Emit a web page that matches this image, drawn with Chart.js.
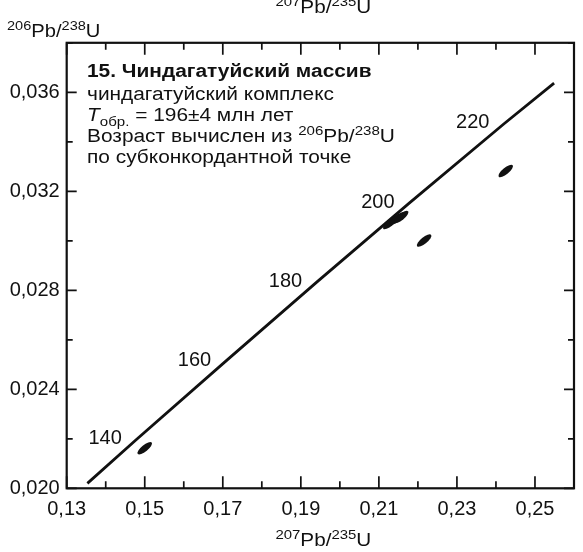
<!DOCTYPE html>
<html>
<head>
<meta charset="utf-8">
<script src="https://cdn.jsdelivr.net/npm/chart.js@4/dist/chart.umd.min.js"></script>
<style>
  html, body { margin: 0; padding: 0; background: #fff; }
  #wrap { width: 583px; height: 552px; }
</style>
</head>
<body>
<div id="wrap"><canvas id="chart" width="583" height="552"></canvas></div>
<script>
// concordia line (age in Ma, 207Pb/235U, 206Pb/238U)
const concordiaAge = [129, 140, 160, 180, 200, 220, 230.5];
const concordiaX = [0.1353, 0.1478, 0.1707, 0.1940, 0.2177, 0.2420, 0.2549];
const concordiaY = [0.02020, 0.02196, 0.02513, 0.02832, 0.03151, 0.03472, 0.03637];
const ageLabels = [140, 160, 180, 200, 220];

// analysed spots (error ellipses)
const spotX = [0.1500, 0.2129, 0.2147, 0.2157, 0.2216, 0.2425];
const spotY = [0.02162, 0.03072, 0.03090, 0.03096, 0.03001, 0.03282];

const xTickLabels = ['0,13', '0,15', '0,17', '0,19', '0,21', '0,23', '0,25'];
const yTickLabels = ['0,020', '0,024', '0,028', '0,032', '0,036'];

const FONT = '"Liberation Sans", Arial, Helvetica, sans-serif';
const INK = '#111';

function runsWidth(ctx, runs) {
  let w = 0;
  runs.forEach(r => { ctx.font = r.font; w += ctx.measureText(r.t).width; });
  return w;
}

function drawRuns(ctx, x, y, runs, sx) {
  ctx.save();
  ctx.translate(x, y);
  ctx.scale(sx, 1);
  ctx.textAlign = 'left';
  ctx.textBaseline = 'alphabetic';
  let cx = 0;
  runs.forEach(r => {
    ctx.font = r.font;
    ctx.fillText(r.t, cx, r.dy || 0);
    cx += ctx.measureText(r.t).width;
  });
  ctx.restore();
}

const big = '18px ' + FONT;
const sup = '13px ' + FONT;
const ratioRuns = (a, b, c, d) => [
  {t: a, font: sup, dy: -7}, {t: 'Pb/', font: big},
  {t: c, font: sup, dy: -7}, {t: d, font: big}
];

const decor = {
  id: 'decor',
  beforeDatasetsDraw(chart) {
    const {ctx, chartArea: a, scales: {x, y}} = chart;
    ctx.save();
    ctx.strokeStyle = INK;
    // frame
    ctx.lineWidth = 2.2;
    ctx.strokeRect(a.left, a.top, a.right - a.left, a.bottom - a.top);
    // inward ticks
    ctx.lineWidth = 1.7;
    ctx.beginPath();
    x.ticks.forEach(t => {
      const px = x.getPixelForValue(t.value);
      const len = t.label ? 12 : 7;
      ctx.moveTo(px, a.bottom); ctx.lineTo(px, a.bottom - len);
      ctx.moveTo(px, a.top); ctx.lineTo(px, a.top + len);
    });
    y.ticks.forEach(t => {
      const py = y.getPixelForValue(t.value);
      const len = t.label ? 10 : 6;
      ctx.moveTo(a.left, py); ctx.lineTo(a.left + len, py);
      ctx.moveTo(a.right, py); ctx.lineTo(a.right - len, py);
    });
    ctx.stroke();
    ctx.restore();
  },
  afterDatasetsDraw(chart) {
    const {ctx, chartArea: a, scales: {x, y}} = chart;
    ctx.save();
    ctx.fillStyle = INK;
    // error ellipses
    spotX.forEach((v, i) => {
      ctx.beginPath();
      ctx.ellipse(x.getPixelForValue(v), y.getPixelForValue(spotY[i]), 9, 3.2, -0.68, 0, Math.PI * 2);
      ctx.fill();
    });
    // age labels on concordia
    ctx.font = '20px ' + FONT;
    ctx.textAlign = 'center';
    ctx.textBaseline = 'middle';
    ageLabels.forEach(age => {
      const i = concordiaAge.indexOf(age);
      ctx.fillText(String(age), x.getPixelForValue(concordiaX[i]) - 31, y.getPixelForValue(concordiaY[i]) - 1);
    });

    // axis titles
    const xt = ratioRuns('207', 'Pb/', '235', 'U');
    const sx = 1.15;
    const w = runsWidth(ctx, xt) * sx;
    const cx = (a.left + a.right) / 2 + 3;
    drawRuns(ctx, cx - w / 2, 546, xt, sx);
    drawRuns(ctx, cx - w / 2, 13, xt, sx); // clipped title of the plot above
    drawRuns(ctx, 7, 37, ratioRuns('206', 'Pb/', '238', 'U'), 1.12);

    // caption block
    const tx = 87, ts = 1.16;
    drawRuns(ctx, tx, 77, [{t: '15. Чиндагатуйский массив', font: 'bold 18px ' + FONT}], ts);
    drawRuns(ctx, tx, 100, [{t: 'чиндагатуйский комплекс', font: big}], ts);
    drawRuns(ctx, tx, 121, [
      {t: 'T', font: 'italic 18px ' + FONT},
      {t: 'обр.', font: sup, dy: 5},
      {t: ' = 196±4 млн лет', font: big}
    ], ts);
    drawRuns(ctx, tx, 142, [{t: 'Возраст вычислен из ', font: big}].concat(ratioRuns('206', 'Pb/', '238', 'U')), ts);
    drawRuns(ctx, tx, 163, [{t: 'по субконкордантной точке', font: big}], ts);
    ctx.restore();
  }
};

new Chart(document.getElementById('chart'), {
  type: 'scatter',
  data: {
    datasets: [{
      label: 'concordia',
      data: concordiaX.map((v, i) => ({x: v, y: concordiaY[i]})),
      showLine: true,
      borderColor: INK,
      borderWidth: 2.8,
      pointRadius: 0,
      tension: 0
    }]
  },
  options: {
    responsive: false,
    animation: false,
    devicePixelRatio: 1,
    layout: {padding: {top: 42.8, right: 3, left: 0, bottom: 0}},
    plugins: {legend: {display: false}, tooltip: {enabled: false}},
    scales: {
      x: {
        type: 'linear',
        min: 0.13, max: 0.26,
        grid: {display: false, drawTicks: false},
        border: {display: false},
        ticks: {
          stepSize: 0.01,
          autoSkip: false,
          maxRotation: 0,
          padding: 9,
          color: INK,
          font: {family: FONT, size: 20},
          callback: v => {
            const s = v.toFixed(2).replace('.', ',');
            return xTickLabels.includes(s) ? s : '';
          }
        },
        afterFit: s => { s.height = 63.7; }
      },
      y: {
        type: 'linear',
        min: 0.020, max: 0.038,
        grid: {display: false, drawTicks: false},
        border: {display: false},
        ticks: {
          stepSize: 0.002,
          autoSkip: false,
          padding: 7,
          color: INK,
          font: {family: FONT, size: 20},
          callback: v => {
            const s = v.toFixed(3).replace('.', ',');
            return yTickLabels.includes(s) ? s : '';
          }
        },
        afterFit: s => { s.width = 66.7; }
      }
    }
  },
  plugins: [decor]
});
</script>
</body>
</html>
